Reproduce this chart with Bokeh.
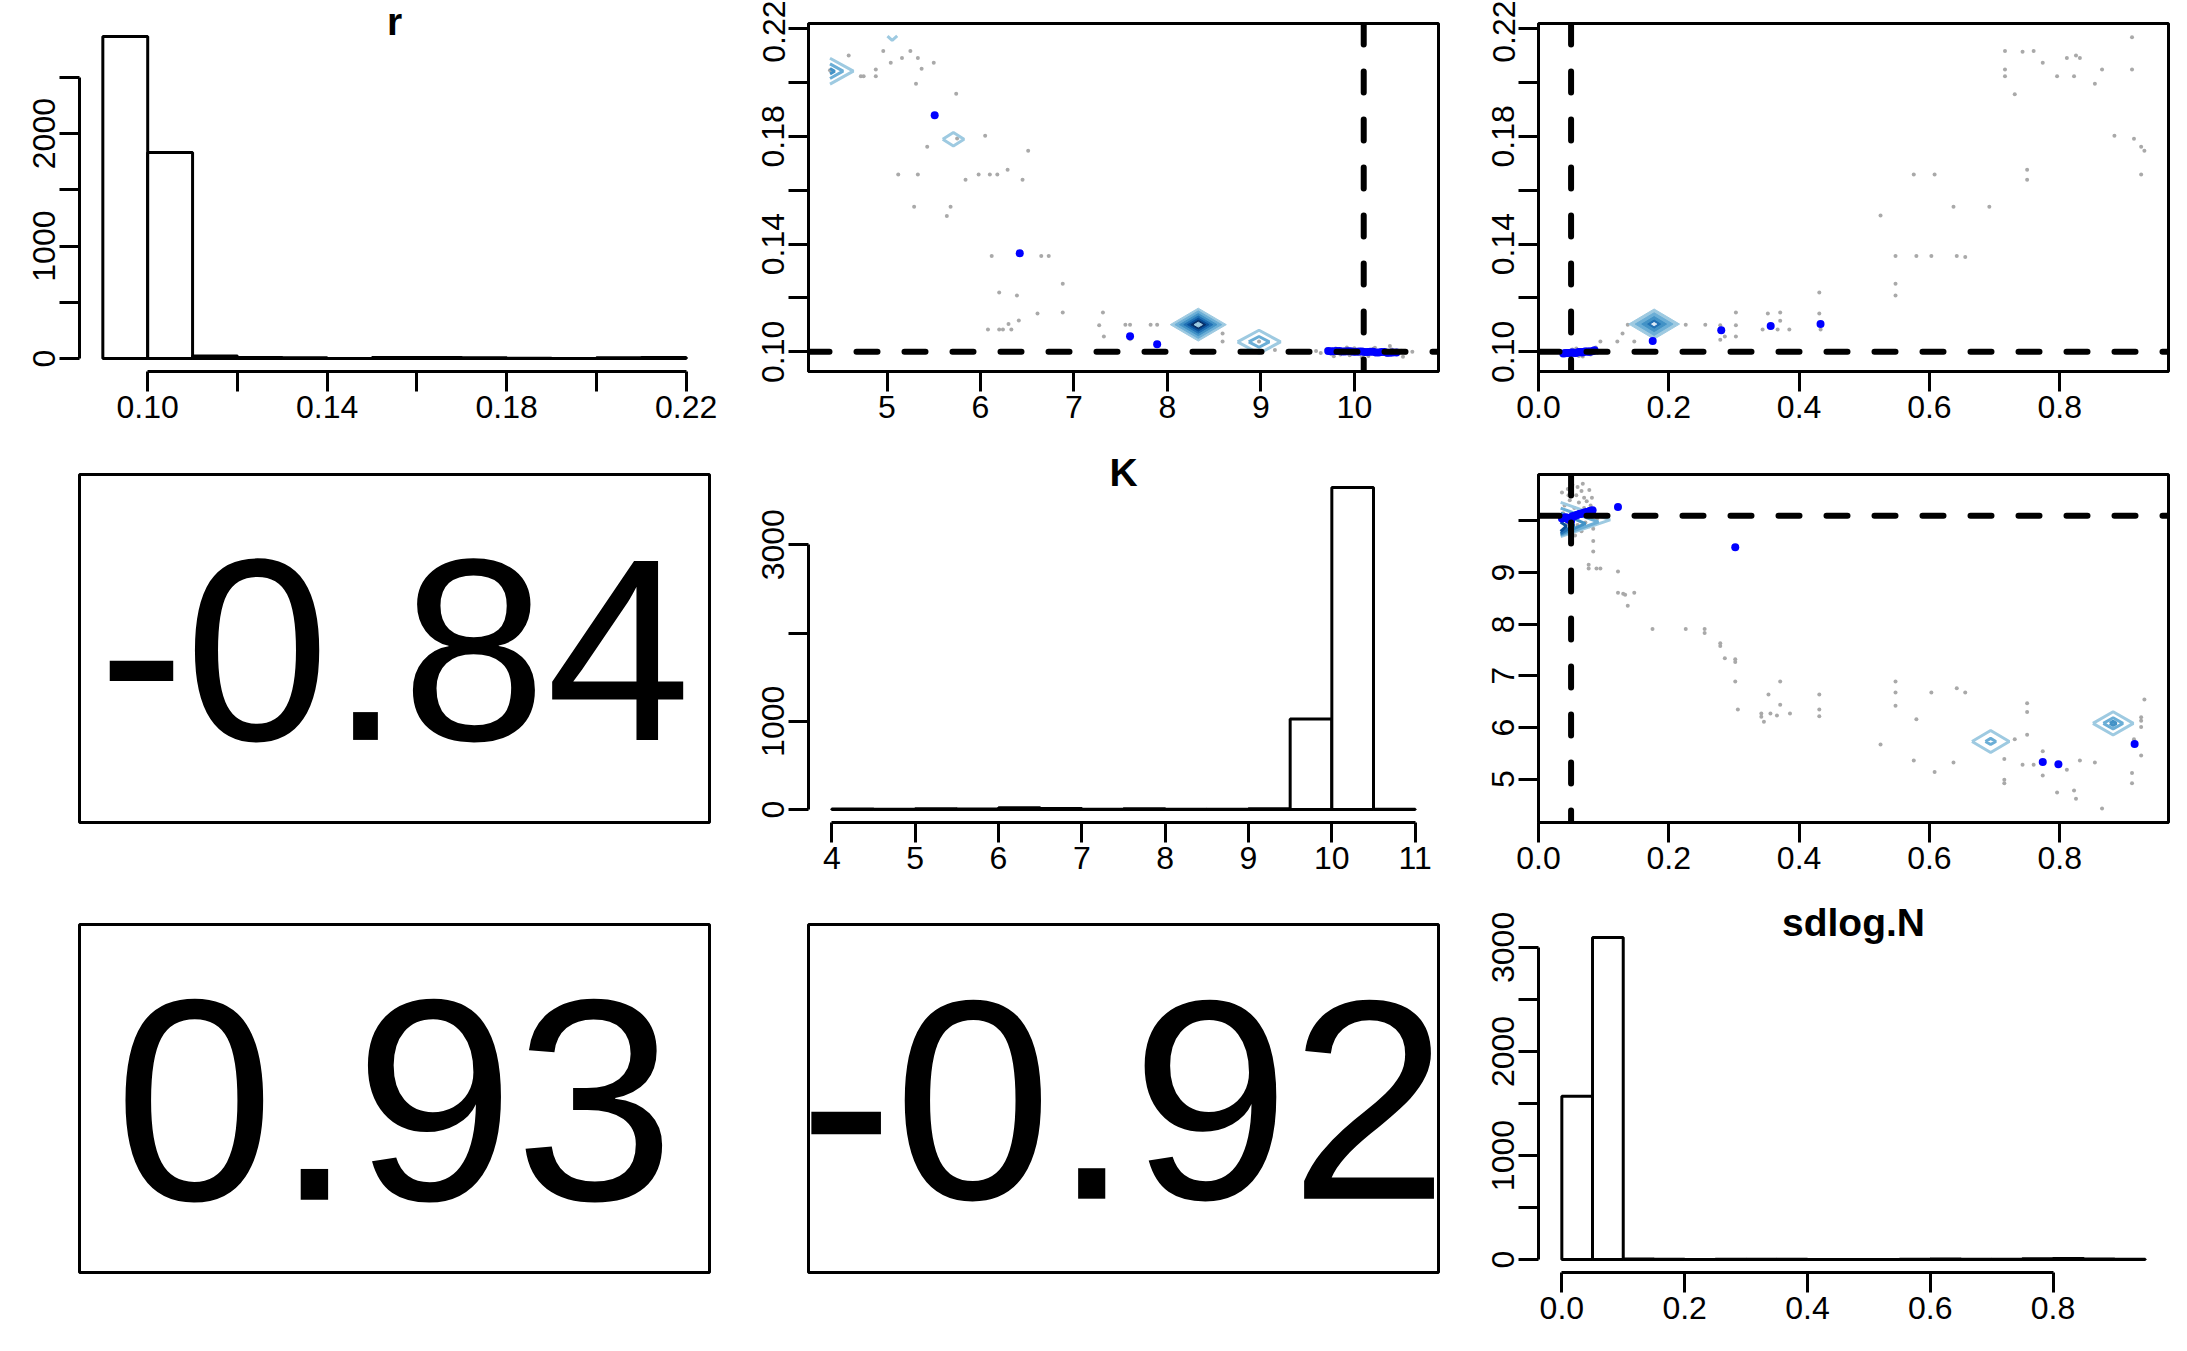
from bokeh.plotting import figure
from bokeh.layouts import column, row
from bokeh.models import Range1d, FixedTicker, Span, Label
from bokeh.core.properties import value
from bokeh.embed import file_html
from bokeh.resources import INLINE

FONT = "Liberation Sans"
BLUES = ["#DEEBF7", "#9ECAE1", "#6BAED6", "#4292C6", "#2171B5", "#08519C", "#08306B"]

# ---- histograms (diagonal) ----
r_breaks = [0.09, 0.10, 0.11, 0.12, 0.13, 0.14, 0.15, 0.16, 0.17, 0.18, 0.19, 0.20, 0.21, 0.22]
r_counts = [2864, 1831, 24, 10, 8, 2, 9, 9, 8, 3, 2, 8, 9]

K_breaks = [4.0, 4.5, 5.0, 5.5, 6.0, 6.5, 7.0, 7.5, 8.0, 8.5, 9.0, 9.5, 10.0, 10.5, 11.0]
K_counts = [6, 4, 10, 8, 22, 12, 4, 10, 4, 3, 10, 1026, 3649, 5]

sd_breaks = [0.00, 0.05, 0.10, 0.15, 0.20, 0.25, 0.30, 0.35, 0.40, 0.45,
             0.50, 0.55, 0.60, 0.65, 0.70, 0.75, 0.80, 0.85, 0.90, 0.95]
sd_counts = [1569, 3096, 6, 4, 2, 3, 3, 4, 2, 1, 2, 3, 5, 3, 4, 8, 10, 6, 4]

# true values (dashed lines)
r_true = 0.10
K_true = 10.1
sd_true = 0.05

# correlations (lower panels)
cor_r_K = -0.84
cor_r_sd = 0.93
cor_K_sd = -0.92

# axis limits of the scatter panels
K_lim = (4.16, 10.90)
r_lim = (0.0927, 0.2219)
sd_lim = (0.0, 0.967)

# ---- panel K (x) vs r (y) ----
Kr_gray = [(4.59, 0.2100), (4.72, 0.2023), (4.75, 0.2023), (4.88, 0.2048), (4.88, 0.2023),
           (4.96, 0.2117), (5.04, 0.2073), (5.16, 0.2091), (5.25, 0.2117), (5.33, 0.2091),
           (5.31, 0.1995), (5.37, 0.2051), (5.50, 0.2073), (5.74, 0.1958), (5.43, 0.1761),
           (5.12, 0.1658), (5.33, 0.1658), (5.29, 0.1539), (5.68, 0.1539), (5.64, 0.1504),
           (5.75, 0.1792), (5.84, 0.1639), (5.98, 0.1658), (6.10, 0.1658), (6.18, 0.1658),
           (6.29, 0.1676), (6.45, 0.1639), (6.05, 0.1802), (6.51, 0.1747), (6.12, 0.1356),
           (6.65, 0.1356), (6.73, 0.1356), (6.20, 0.1220), (6.39, 0.1209), (6.88, 0.1253),
           (6.88, 0.1146), (6.61, 0.1142), (6.41, 0.1116), (6.30, 0.1103), (6.08, 0.1083),
           (6.20, 0.1083), (6.24, 0.1083), (6.33, 0.1083), (7.31, 0.1146), (7.27, 0.1099),
           (7.32, 0.1057), (7.55, 0.1101), (7.60, 0.1101), (7.82, 0.1101), (7.89, 0.1101),
           (8.59, 0.1068), (8.59, 0.1038), (9.15, 0.1007), (7.60, 0.1047), (8.98, 0.1038),
           (4.39, 0.2045),
           (9.59, 0.1003), (9.64, 0.0996), (9.70, 0.1009), (9.75, 0.0993), (9.80, 0.1012),
           (9.85, 0.0990), (9.90, 0.1010), (9.95, 0.0987), (10.00, 0.1013), (10.05, 0.0991),
           (10.10, 0.1008), (10.15, 0.0985), (10.20, 0.1011), (10.25, 0.0994), (10.30, 0.1006),
           (10.35, 0.0988), (10.40, 0.1009), (10.45, 0.0992), (10.50, 0.1004), (10.55, 0.0996),
           (10.62, 0.1000), (9.78, 0.0984), (9.92, 0.1016), (10.08, 0.0979), (10.22, 0.1015),
           (10.38, 0.1022), (10.52, 0.0982)]
Kr_blue = [(5.51, 0.1878), (6.42, 0.1366), (7.60, 0.1058), (7.89, 0.1028),
           (9.72, 0.1003), (9.75, 0.1002), (9.78, 0.1002), (9.81, 0.1003), (9.84, 0.1003),
           (9.87, 0.1001), (9.90, 0.1001), (9.93, 0.1002), (9.96, 0.1002), (9.99, 0.1000),
           (10.02, 0.1000), (10.05, 0.1001), (10.08, 0.1001), (10.11, 0.0999), (10.14, 0.0999),
           (10.17, 0.1000), (10.20, 0.1000), (10.23, 0.0998), (10.26, 0.0998), (10.29, 0.0999),
           (10.32, 0.0999), (10.35, 0.0997), (10.38, 0.0997), (10.41, 0.0998), (10.45, 0.0998)]
# density contours: centre x, centre y, half width, half height, level
Kr_fill = [(8.33, 0.1101, 0.30, 0.0061, 1), (8.33, 0.1101, 0.25, 0.0051, 2),
           (8.33, 0.1101, 0.20, 0.0041, 3), (8.33, 0.1101, 0.155, 0.0032, 4),
           (8.33, 0.1101, 0.115, 0.0024, 5), (8.33, 0.1101, 0.08, 0.0016, 6),
           (8.33, 0.1101, 0.045, 0.0009, 1)]
Kr_ring = [(5.71, 0.1789, 0.114, 0.0025, 1), (8.98, 0.1037, 0.23, 0.0043, 1),
           (8.98, 0.1037, 0.11, 0.0020, 2)]
Kr_open = [([4.39, 4.64, 4.39], [0.2090, 0.2042, 0.1994], 1),
           ([4.39, 4.53, 4.39], [0.2069, 0.2042, 0.2015], 2),
           ([4.39, 4.44, 4.39], [0.2052, 0.2042, 0.2032], 3),
           ([5.005, 5.055, 5.109], [0.2172, 0.2156, 0.2173], 1)]

# ---- panel sdlog.N (x) vs r (y) ----
sr_gray = [(0.716, 0.2117), (0.716, 0.2048), (0.716, 0.2023), (0.743, 0.2114), (0.760, 0.2117),
           (0.774, 0.2073), (0.731, 0.1956), (0.796, 0.2023), (0.811, 0.2091), (0.822, 0.2023),
           (0.825, 0.2100), (0.831, 0.2091), (0.854, 0.1995), (0.865, 0.2048), (0.911, 0.2168),
           (0.911, 0.2048), (0.884, 0.1802), (0.914, 0.1791), (0.925, 0.1761), (0.930, 0.1747),
           (0.925, 0.1658), (0.750, 0.1676), (0.750, 0.1639), (0.576, 0.1658), (0.608, 0.1658),
           (0.525, 0.1506), (0.637, 0.1539), (0.692, 0.1539), (0.548, 0.1356), (0.580, 0.1356),
           (0.603, 0.1356), (0.642, 0.1356), (0.655, 0.1352), (0.548, 0.1253), (0.548, 0.1209),
           (0.431, 0.1220), (0.431, 0.1142), (0.433, 0.1083), (0.385, 0.1083), (0.371, 0.1146),
           (0.371, 0.1115), (0.352, 0.1142), (0.344, 0.1083), (0.367, 0.1083), (0.303, 0.1146),
           (0.303, 0.1099), (0.303, 0.1057), (0.286, 0.1057), (0.279, 0.1045), (0.279, 0.1099),
           (0.256, 0.1101), (0.226, 0.1101), (0.137, 0.1101), (0.129, 0.1068), (0.121, 0.1038),
           (0.147, 0.1038), (0.095, 0.1038), (0.088, 0.1016),
           (0.040, 0.1003), (0.045, 0.0990), (0.050, 0.1006), (0.055, 0.0988), (0.060, 0.1004),
           (0.065, 0.0992), (0.070, 0.1007), (0.075, 0.0995), (0.080, 0.0990), (0.085, 0.1000),
           (0.062, 0.0985), (0.052, 0.1009), (0.090, 0.0996), (0.046, 0.0996), (0.068, 0.0983),
           (0.058, 0.1012)]
sr_blue = [(0.1753, 0.1040), (0.2805, 0.1080), (0.3564, 0.1096), (0.4329, 0.1103),
           (0.038, 0.0994), (0.041, 0.0995), (0.043, 0.0996), (0.046, 0.0996), (0.048, 0.0995),
           (0.050, 0.0997), (0.052, 0.0998), (0.055, 0.0997), (0.057, 0.0996), (0.060, 0.0998),
           (0.062, 0.0999), (0.065, 0.0999), (0.067, 0.0998), (0.070, 0.1000), (0.072, 0.1001),
           (0.075, 0.1001), (0.077, 0.1000), (0.079, 0.1001), (0.081, 0.1001), (0.084, 0.1003),
           (0.086, 0.1006)]
sr_fill = [(0.1775, 0.1103, 0.039, 0.0056, 1), (0.1775, 0.1103, 0.029, 0.0042, 2),
           (0.1775, 0.1103, 0.019, 0.0028, 3), (0.1775, 0.1103, 0.010, 0.0015, 4),
           (0.1775, 0.1103, 0.004, 0.0006, 0)]

# ---- panel sdlog.N (x) vs K (y) ----
sK_gray = [(0.084, 9.61), (0.084, 9.41), (0.077, 9.15), (0.077, 9.08), (0.089, 9.08),
           (0.095, 9.08), (0.122, 9.02), (0.122, 8.61), (0.130, 8.59), (0.133, 8.57),
           (0.147, 8.61), (0.137, 8.36), (0.175, 7.91), (0.226, 7.91), (0.255, 7.91),
           (0.255, 7.83), (0.279, 7.63), (0.279, 7.58), (0.286, 7.34), (0.302, 7.32),
           (0.302, 7.27), (0.302, 6.89), (0.306, 6.35), (0.342, 6.27), (0.342, 6.21),
           (0.346, 6.11), (0.356, 6.27), (0.366, 6.23), (0.371, 6.44), (0.371, 6.89),
           (0.353, 6.64), (0.386, 6.27), (0.431, 6.64), (0.431, 6.35), (0.431, 6.22),
           (0.525, 5.67), (0.548, 6.89), (0.548, 6.68), (0.548, 6.42), (0.576, 5.36),
           (0.580, 6.16), (0.603, 6.68), (0.608, 5.14), (0.637, 5.32), (0.642, 6.76),
           (0.655, 6.68), (0.715, 5.39), (0.715, 4.99), (0.715, 4.92), (0.731, 5.77),
           (0.743, 5.28), (0.750, 6.47), (0.750, 6.30), (0.750, 5.86), (0.760, 5.28),
           (0.774, 5.54), (0.774, 5.07), (0.796, 4.74), (0.811, 5.18), (0.822, 4.78),
           (0.825, 4.62), (0.831, 5.36), (0.854, 5.32), (0.865, 4.43), (0.911, 5.12),
           (0.911, 4.92), (0.914, 5.77), (0.925, 6.20), (0.925, 6.13), (0.925, 6.01),
           (0.925, 5.46), (0.930, 6.54),
           (0.036, 10.55), (0.045, 10.62), (0.052, 10.70), (0.060, 10.66), (0.066, 10.58),
           (0.058, 10.50), (0.070, 10.45), (0.048, 10.40), (0.062, 10.36), (0.074, 10.38),
           (0.080, 10.30), (0.040, 10.30), (0.055, 10.25), (0.085, 10.15), (0.090, 10.05),
           (0.038, 10.15), (0.044, 9.95), (0.060, 9.92), (0.072, 9.97), (0.078, 9.90),
           (0.050, 9.85), (0.066, 9.80), (0.040, 9.78), (0.056, 9.72), (0.084, 9.85),
           (0.082, 10.45), (0.068, 10.72), (0.046, 10.50), (0.070, 10.25), (0.078, 10.60)]
sK_blue = [(0.122, 10.27), (0.302, 9.49), (0.774, 5.33), (0.798, 5.29), (0.915, 5.68),
           (0.036, 10.05), (0.039, 10.06), (0.042, 10.07), (0.044, 10.05), (0.046, 10.03),
           (0.048, 10.06), (0.050, 10.00), (0.050, 10.04), (0.052, 10.09), (0.054, 10.09),
           (0.056, 10.10), (0.058, 10.11), (0.060, 10.12), (0.062, 10.13), (0.064, 10.14),
           (0.066, 10.14), (0.068, 10.15), (0.070, 10.16), (0.072, 10.17), (0.074, 10.17),
           (0.076, 10.18), (0.078, 10.19), (0.080, 10.20), (0.083, 10.21)]
sK_ring = [(0.694, 5.73, 0.0286, 0.213, 1), (0.694, 5.73, 0.008, 0.06, 2),
           (0.882, 6.08, 0.031, 0.226, 1), (0.882, 6.08, 0.015, 0.11, 2),
           (0.882, 6.08, 0.005, 0.04, 3)]
sK_open = [([0.034, 0.110, 0.034], [10.36, 10.02, 9.70], 1),
           ([0.034, 0.092, 0.034], [10.25, 9.98, 9.72], 2),
           ([0.034, 0.072, 0.034], [10.15, 9.95, 9.74], 3),
           ([0.034, 0.055, 0.034], [10.05, 9.92, 9.76], 4),
           ([0.034, 0.043, 0.034], [9.98, 9.90, 9.80], 5)]

# ---- layout (page pixels) ----
COL_W = [729, 729, 721]
COL_L = [79, 79, 80]
ROW_H = [450, 450, 443]
ROW_T = [23, 24, 24]
FRAME_W = 630
FRAME_H = 348


def make_fig(i, j, xr, yr, box=True, axes=True, open_top=False):
    w, h = COL_W[j], ROW_H[i]
    left, top = COL_L[j], ROW_T[i]
    bottom = h - top - FRAME_H
    p = figure(width=w, height=h, x_range=xr, y_range=yr, title=None,
               output_backend="svg", toolbar_location=None, frame_align=False,
               x_axis_location="below" if axes else None,
               y_axis_location="left" if axes else None,
               min_border_left=left, min_border_right=w - left - FRAME_W,
               min_border_top=0 if open_top else top, min_border_bottom=bottom)
    p.grid.grid_line_color = None
    p.background_fill_color = "white"
    p.border_fill_color = "white"
    if box:
        p.outline_line_color = "black"
        p.outline_line_width = 3
    else:
        p.outline_line_color = None
    return p


def style_axis(ax, ticks, labels, bounds=None, vertical=False):
    ax.ticker = FixedTicker(ticks=ticks)
    ax.major_label_overrides = dict(zip(ticks, labels))
    ax.minor_tick_line_color = None
    ax.major_tick_in = 0
    ax.major_tick_out = 20
    ax.major_tick_line_width = 3
    ax.major_tick_line_color = "black"
    ax.axis_line_width = 3
    ax.axis_line_color = "black"
    ax.major_label_text_font = FONT
    ax.major_label_text_font_size = "32px"
    ax.major_label_text_color = "black"
    ax.major_label_standoff = 4
    if bounds is not None:
        ax.bounds = bounds
    if vertical:
        ax.major_label_orientation = "vertical"


def diamond(cx, cy, hw, hh):
    return [cx - hw, cx, cx + hw, cx, cx - hw], [cy, cy + hh, cy, cy - hh, cy]


r_ticks = [0.10, 0.12, 0.14, 0.16, 0.18, 0.20, 0.22]
r_labels = ["0.10", "", "0.14", "", "0.18", "", "0.22"]
K_ticks = [5, 6, 7, 8, 9, 10]
sd_ticks = [0.0, 0.2, 0.4, 0.6, 0.8]
sd_labels = ["0.0", "0.2", "0.4", "0.6", "0.8"]


def hist_panel(i, j, breaks, counts, name, xt, xl, yt, yl):
    span = breaks[-1] - breaks[0]
    xr = Range1d(breaks[0] - 0.04 * span, breaks[-1] + 0.04 * span)
    top = max(counts)
    y0, y1 = -0.04 * top, 1.04 * top
    per_px = (y1 - y0) / FRAME_H
    # frame is opened up to the figure top so the title is not clipped
    yr = Range1d(y0, y1 + ROW_T[i] * per_px)
    p = make_fig(i, j, xr, yr, box=False, open_top=True)
    p.quad(left=breaks[:-1], right=breaks[1:], bottom=0, top=counts,
           fill_color="white", line_color="black", line_width=3)
    style_axis(p.xaxis[0], xt, xl, bounds=(xt[0], xt[-1]))
    style_axis(p.yaxis[0], yt, yl, bounds=(yt[0], yt[-1]), vertical=True)
    p.add_layout(Label(x=(xr.start + xr.end) / 2, y=y1 + 2 * per_px, text=name,
                       text_font=FONT, text_font_size="39px", text_font_style="bold",
                       text_align="center", text_baseline="alphabetic", text_color="black"))
    return p


def scatter_panel(i, j, xlim, ylim, gray, blue, fills, rings, opens, xtrue, ytrue,
                  xt, xl, yt, yl):
    p = make_fig(i, j, Range1d(*xlim), Range1d(*ylim), box=True)
    p.scatter([a for a, b in gray], [b for a, b in gray], size=4,
              color="#A9A9A9", line_color=None)
    if fills:
        xs, ys, cs = [], [], []
        for cx, cy, hw, hh, lev in fills:
            dx, dy = diamond(cx, cy, hw, hh)
            xs.append(dx)
            ys.append(dy)
            cs.append(BLUES[lev])
        p.patches(xs, ys, fill_color=cs, line_color=cs, line_width=1)
    if rings:
        xs, ys, cs = [], [], []
        for cx, cy, hw, hh, lev in rings:
            dx, dy = diamond(cx, cy, hw, hh)
            xs.append(dx)
            ys.append(dy)
            cs.append(BLUES[lev])
        p.multi_line(xs, ys, line_color=cs, line_width=3)
    if opens:
        p.multi_line([o[0] for o in opens], [o[1] for o in opens],
                     line_color=[BLUES[o[2]] for o in opens], line_width=3)
    p.scatter([a for a, b in blue], [b for a, b in blue], size=8,
              color="#0000FF", line_color=None)
    p.add_layout(Span(location=xtrue, dimension="height", line_color="black",
                      line_width=6, line_dash="21 27", line_cap="round"))
    p.add_layout(Span(location=ytrue, dimension="width", line_color="black",
                      line_width=6, line_dash="21 27", line_cap="round"))
    style_axis(p.xaxis[0], xt, xl)
    style_axis(p.yaxis[0], yt, yl, vertical=True)
    return p


def cor_panel(i, j, c):
    p = make_fig(i, j, Range1d(0, 1), Range1d(0, 1), box=True, axes=False)
    size = 310 * abs(c)
    p.text(x=[0.5], y=[0.5], text=[f"{c:.2f}"], text_font=value(FONT),
           text_font_size=value(f"{size:.0f}px"), text_align="center",
           text_baseline="middle", text_color="black")
    return p


p11 = hist_panel(0, 0, r_breaks, r_counts, "r", r_ticks, r_labels,
                 [0, 500, 1000, 1500, 2000, 2500], ["0", "", "1000", "", "2000", ""])
p12 = scatter_panel(0, 1, K_lim, r_lim, Kr_gray, Kr_blue, Kr_fill, Kr_ring, Kr_open,
                    K_true, r_true, K_ticks, [str(t) for t in K_ticks], r_ticks, r_labels)
p13 = scatter_panel(0, 2, sd_lim, r_lim, sr_gray, sr_blue, sr_fill, [], [],
                    sd_true, r_true, sd_ticks, sd_labels, r_ticks, r_labels)

p21 = cor_panel(1, 0, cor_r_K)
p22 = hist_panel(1, 1, K_breaks, K_counts, "K", [4, 5, 6, 7, 8, 9, 10, 11],
                 ["4", "5", "6", "7", "8", "9", "10", "11"],
                 [0, 1000, 2000, 3000], ["0", "1000", "", "3000"])
p23 = scatter_panel(1, 2, sd_lim, K_lim, sK_gray, sK_blue, [], sK_ring, sK_open,
                    sd_true, K_true, sd_ticks, sd_labels, K_ticks, ["5", "6", "7", "8", "9", ""])

p31 = cor_panel(2, 0, cor_r_sd)
p32 = cor_panel(2, 1, cor_K_sd)
p33 = hist_panel(2, 2, sd_breaks, sd_counts, "sdlog.N", sd_ticks, sd_labels,
                 [0, 500, 1000, 1500, 2000, 2500, 3000], ["0", "", "1000", "", "2000", "", "3000"])

layout = column(row(p11, p12, p13), row(p21, p22, p23), row(p31, p32, p33))

open("out.html", "w").write(file_html(layout, INLINE))
